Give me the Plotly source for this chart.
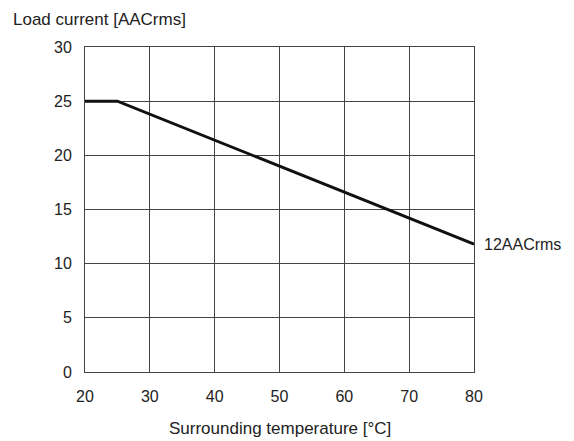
import plotly.graph_objects as go

temperature = [20, 25, 80]
load_current = [25, 25, 11.8]
x_ticks = [20, 30, 40, 50, 60, 70, 80]
y_ticks = [0, 5, 10, 15, 20, 25, 30]
end_label = "12AACrms"
y_title = "Load current [AACrms]"
x_title = "Surrounding temperature [°C]"

family = "Liberation Sans, Arial, sans-serif"
tick_font = dict(family=family, size=16, color="#222")
title_font = dict(family=family, size=17, color="#222")

fig = go.Figure()
fig.add_trace(go.Scatter(x=temperature, y=load_current, mode="lines",
                         line=dict(color="#111", width=3), showlegend=False,
                         hoverinfo="skip"))

fig.add_annotation(x=temperature[-1], y=load_current[-1], text=end_label,
                   showarrow=False, xanchor="left", yanchor="middle", xshift=8,
                   font=tick_font)
fig.add_annotation(x=0, y=1, xref="paper", yref="paper", text=y_title,
                   showarrow=False, xanchor="left", yanchor="top", borderpad=0,
                   xshift=-73, yshift=38, font=title_font)
fig.add_annotation(x=0.5, y=0, xref="paper", yref="paper", text=x_title,
                   showarrow=False, xanchor="center", yanchor="middle",
                   yshift=-56, font=title_font)

fig.update_layout(
    width=566, height=433,
    margin=dict(l=77, r=100, t=39, b=69),
    plot_bgcolor="white", paper_bgcolor="white",
    font=tick_font,
    xaxis=dict(range=[20, 80], tickvals=x_ticks, showgrid=True, gridcolor="#444",
               gridwidth=1, showline=True, linecolor="#444", linewidth=1, mirror=True,
               ticks="outside", ticklen=10, tickcolor="rgba(0,0,0,0)", zeroline=False,
               tickfont=tick_font),
    yaxis=dict(range=[0, 30], tickvals=y_ticks, showgrid=True, gridcolor="#444",
               gridwidth=1, showline=True, linecolor="#444", linewidth=1, mirror=True,
               ticks="outside", ticklen=9, tickcolor="rgba(0,0,0,0)", zeroline=False,
               tickfont=tick_font),
)

fig.write_html("out.html")
